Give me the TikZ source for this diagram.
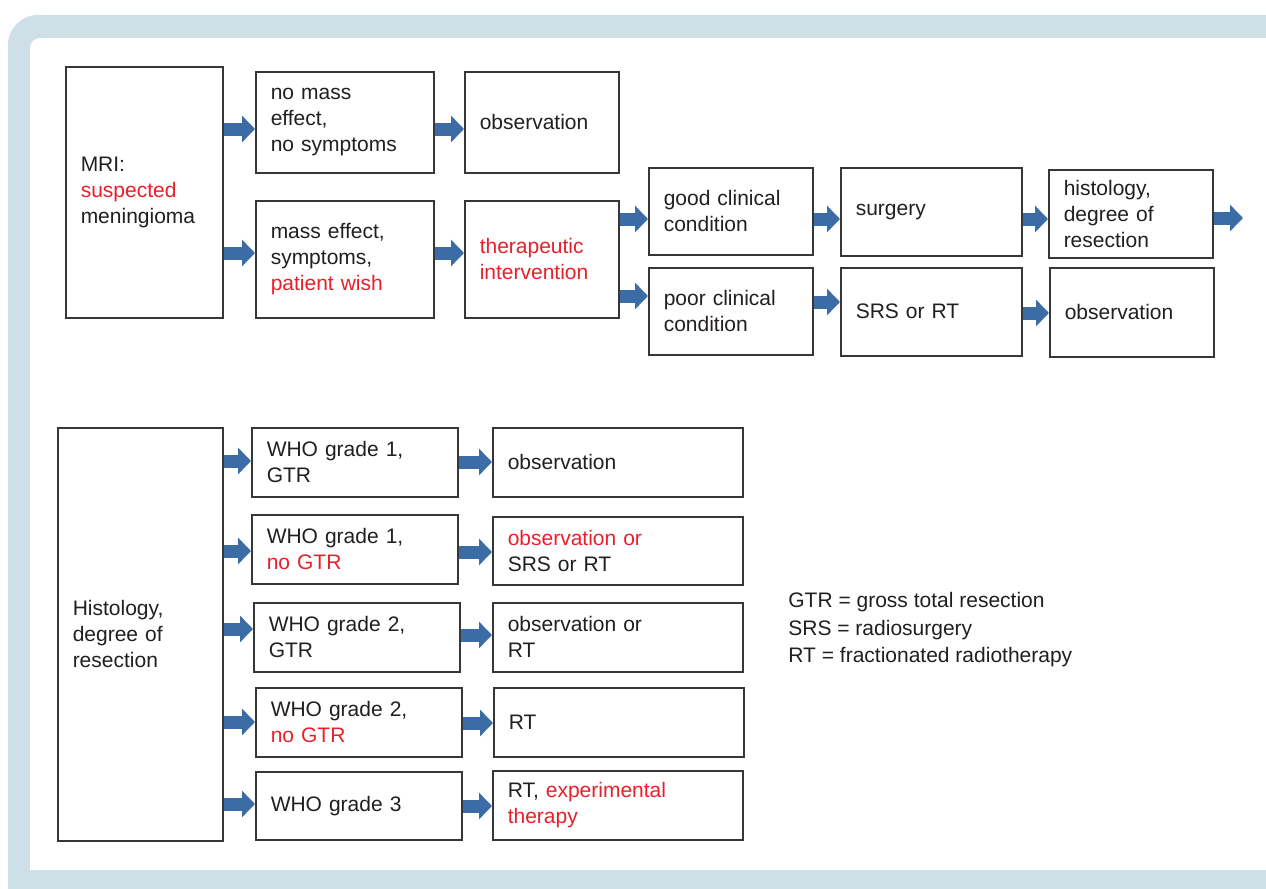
\documentclass[tikz,border=0pt]{standalone}
\usepackage{fontspec}
\setmainfont{Liberation Sans}
\usetikzlibrary{arrows.meta}

\definecolor{bandblue}{RGB}{207,223,231}
\definecolor{arrowblue}{RGB}{60,108,166}
\definecolor{boxgray}{RGB}{55,55,55}
\definecolor{txt}{RGB}{35,31,32}
\definecolor{hlred}{RGB}{232,32,44}
\newcommand{\hl}[1]{\textcolor{hlred}{#1}}

\tikzset{
  box/.style 2 args={draw=boxgray, line width=0.75pt, anchor=north west,
    inner xsep=7.5pt, inner ysep=1pt, align=left, text=txt,
    text width=#1, minimum height=#2,
    font=\fontsize{10.5}{13}\selectfont},
  flow/.style={arrowblue, line width=6.5pt, -{Triangle[length=6.5pt, width=13pt]}},
}

\begin{document}
\begin{tikzpicture}[x=0.5pt, y=-0.5pt]

    \useasboundingbox (0,0) rectangle (1266,889);
    \clip (0,0) rectangle (1266,889);

    % frame
    \fill[bandblue, rounded corners=15pt] (8,15) rectangle (1320,960);
    \fill[white, rounded corners=5pt] (30,38) rectangle (1300,900);
    \fill[bandblue] (8,870) rectangle (1300,960);

    % upper pathway
    \node[box={63.5pt}{125.5pt}] (mri) at (65,66) {MRI:\\\hl{suspected}\\meningioma};
    \node[box={74pt}{50.5pt}] (nomass) at (255,71) {no mass\\effect,\\no symptoms};
    \node[box={74pt}{58.5pt}] (mass) at (255,200) {mass effect,\\symptoms,\\\hl{patient wish}};
    \node[box={62pt}{50.5pt}] (obsA) at (464,71) {observation};
    \node[box={62pt}{58.5pt}] (thera) at (464,200) {\hl{therapeutic}\\\hl{intervention}};
    \node[box={67pt}{43.5pt}] (good) at (648,167) {good clinical\\condition};
    \node[box={67pt}{43.5pt}] (poor) at (648,267) {poor clinical\\condition};
    \node[box={75.5pt}{44pt}] (surg) at (840,167) {surgery};
    \node[box={75.5pt}{44pt}] (srs) at (840,267) {SRS or RT};
    \node[box={67pt}{44pt}] (histo) at (1048,169) {histology,\\degree of\\resection};
    \node[box={67pt}{44.5pt}] (obsB) at (1049,267) {observation};
    \coordinate (histout) at (1243,218);

    \draw[flow] (mri.east |- 0,129) -- (nomass.west |- 0,129);
    \draw[flow] (mri.east |- 0,253) -- (mass.west |- 0,253);
    \draw[flow] (nomass.east |- 0,129) -- (obsA.west |- 0,129);
    \draw[flow] (mass.east |- 0,253) -- (thera.west |- 0,253);
    \draw[flow] (thera.east |- 0,219) -- (good.west |- 0,219);
    \draw[flow] (thera.east |- 0,296) -- (poor.west |- 0,296);
    \draw[flow] (good.east |- 0,219) -- (surg.west |- 0,219);
    \draw[flow] (poor.east |- 0,302) -- (srs.west |- 0,302);
    \draw[flow] (surg.east |- 0,219) -- (histo.west |- 0,219);
    \draw[flow] (srs.east |- 0,313) -- (obsB.west |- 0,313);
    \draw[flow] (histo.east |- histout) -- (histout);

    % lower pathway
    \node[box={67.5pt}{206.5pt}] (histol) at (57,427) {Histology,\\degree of\\resection};

    \node[box={88pt}{34.5pt}] (who1) at (251,427) {WHO grade 1,\\GTR};
    \node[box={88pt}{34.5pt}] (who2) at (251,514) {WHO grade 1,\\\hl{no GTR}};
    \node[box={88pt}{34.5pt}] (who3) at (253,602) {WHO grade 2,\\GTR};
    \node[box={88pt}{34.5pt}] (who4) at (255,687) {WHO grade 2,\\\hl{no GTR}};
    \node[box={88pt}{34pt}] (who5) at (255,771) {WHO grade 3};

    \node[box={110pt}{34.5pt}] (res1) at (492,427) {observation};
    \node[box={110pt}{34pt}] (res2) at (492,516) {\hl{observation or}\\SRS or RT};
    \node[box={110pt}{34.5pt}] (res3) at (492,602) {observation or\\RT};
    \node[box={110pt}{34.5pt}] (res4) at (493,687) {RT};
    \node[box={110pt}{34.5pt}] (res5) at (492,770) {RT, \hl{experimental}\\\hl{therapy}};

    \foreach \i/\ya/\yb in {1/461/462, 2/551/552, 3/629/635, 4/722/723, 5/804/806} {
      \draw[flow] (histol.east |- 0,\ya) -- (who\i.west |- 0,\ya);
      \draw[flow] (who\i.east |- 0,\yb) -- (res\i.west |- 0,\yb);
    }

    % abbreviations
    \node[anchor=west, align=left, text=txt, inner sep=0pt,
      font=\fontsize{10.5}{13.75}\selectfont] (legend) at (788,630)
      {GTR = gross total resection\\SRS = radiosurgery\\RT = fractionated radiotherapy};

  \end{tikzpicture}
\end{document}
